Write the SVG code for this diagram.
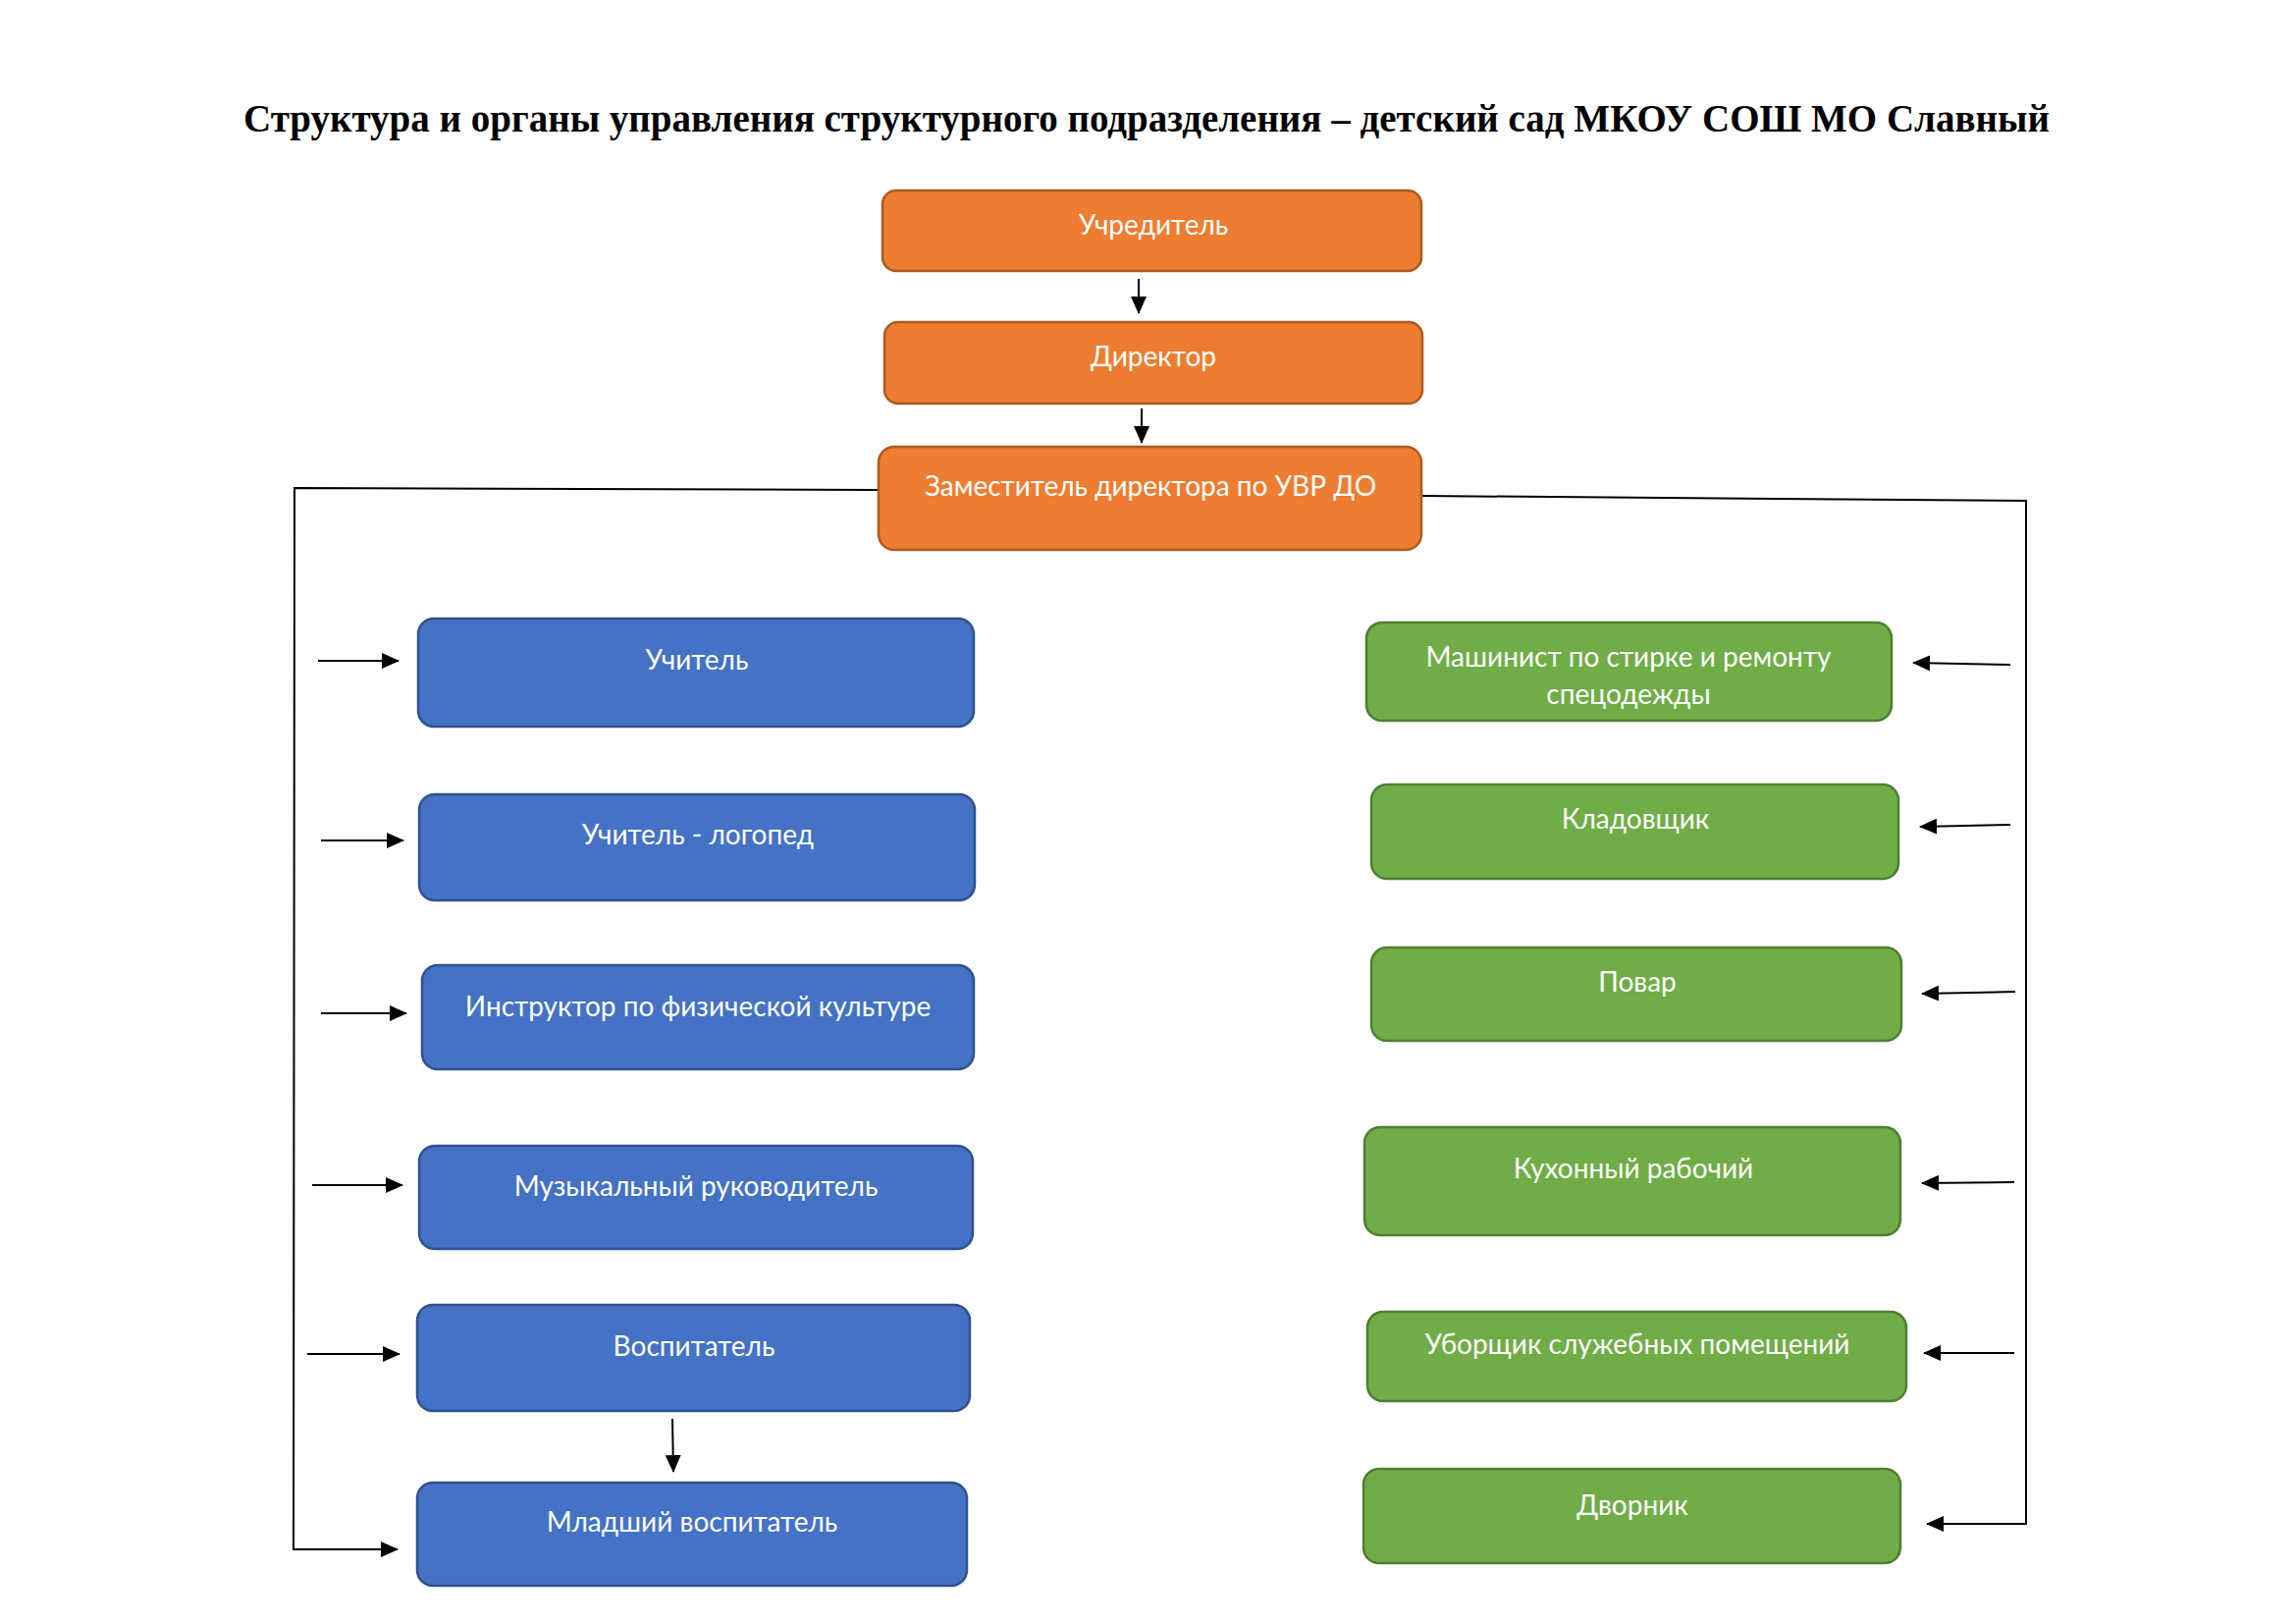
<svg xmlns="http://www.w3.org/2000/svg" width="2339" height="1654" viewBox="0 0 2339 1654">
<defs>
<marker id="ah" markerUnits="userSpaceOnUse" markerWidth="18" markerHeight="16" refX="17" refY="8" orient="auto">
<path d="M0,0 L18,8 L0,16 z" fill="#000"/>
</marker>
<style>
.title{font-family:"Liberation Serif","Times New Roman",serif;font-weight:bold;font-size:39px;fill:#000;text-anchor:middle}
.lbl{font-family:Lato,"Noto Sans",sans-serif;font-size:28px;fill:#fff;text-anchor:middle}
.or{fill:#ED7D31;stroke:#AE5A21;stroke-width:2.5}
.bl{fill:#4472C4;stroke:#2F528F;stroke-width:2.5}
.gr{fill:#70AD47;stroke:#507E32;stroke-width:2.5}
.c{fill:none;stroke:#000;stroke-width:2}
.ca{fill:none;stroke:#000;stroke-width:2;marker-end:url(#ah)}
</style>
</defs>
<rect width="2339" height="1654" fill="#fff"/>
<text class="title" x="1168" y="134">Структура и органы управления структурного подразделения – детский сад МКОУ СОШ МО Славный</text>

<g id="connectors">
<path class="ca" d="M1160,284 L1160,319"/>
<path class="ca" d="M1163,416 L1163,451"/>
<path class="ca" d="M895,499 L300,497 L299,1578 L405,1578"/>
<path class="ca" d="M324,673 L406,673"/>
<path class="ca" d="M327,856 L411,856"/>
<path class="ca" d="M327,1032 L414,1032"/>
<path class="ca" d="M318,1207 L410,1207"/>
<path class="ca" d="M313,1379 L407,1379"/>
<path class="ca" d="M685,1445 L686,1499"/>
<path class="ca" d="M1449,505 L2064,510 L2064,1552 L1963,1552"/>
<path class="ca" d="M2048,677 L1949,675"/>
<path class="ca" d="M2048,840 L1956,842"/>
<path class="ca" d="M2053,1010 L1958,1012"/>
<path class="ca" d="M2052,1204 L1958,1205"/>
<path class="ca" d="M2052,1378 L1960,1378"/>
</g>

<g id="n-uchreditel"><rect class="or" x="899" y="194" width="549" height="82" rx="14"/><text class="lbl" x="1175" y="239">Учредитель</text></g>
<g id="n-direktor"><rect class="or" x="901" y="328" width="548" height="83" rx="14"/><text class="lbl" x="1175" y="373">Директор</text></g>
<g id="n-zam"><rect class="or" x="895" y="455" width="553" height="105" rx="16"/><text class="lbl" x="1172" y="505">Заместитель директора по УВР ДО</text></g>

<g id="n-uchitel"><rect class="bl" x="426" y="630" width="566" height="110" rx="16"/><text class="lbl" x="710" y="682">Учитель</text></g>
<g id="n-logoped"><rect class="bl" x="427" y="809" width="566" height="108" rx="16"/><text class="lbl" x="711" y="860">Учитель - логопед</text></g>
<g id="n-instruktor"><rect class="bl" x="430" y="983" width="562" height="106" rx="16"/><text class="lbl" x="711" y="1035">Инструктор по физической культуре</text></g>
<g id="n-muz"><rect class="bl" x="427" y="1167" width="564" height="105" rx="16"/><text class="lbl" x="709" y="1218">Музыкальный руководитель</text></g>
<g id="n-vosp"><rect class="bl" x="425" y="1329" width="563" height="108" rx="16"/><text class="lbl" x="707" y="1381">Воспитатель</text></g>
<g id="n-mlvosp"><rect class="bl" x="425" y="1510" width="560" height="105" rx="16"/><text class="lbl" x="705" y="1560">Младший воспитатель</text></g>

<g id="n-mashinist"><rect class="gr" x="1392" y="634" width="535" height="100" rx="16"/><text class="lbl" x="1659" y="679">Машинист по стирке и ремонту</text><text class="lbl" x="1659" y="717">спецодежды</text></g>
<g id="n-kladov"><rect class="gr" x="1397" y="799" width="537" height="96" rx="16"/><text class="lbl" x="1666" y="844">Кладовщик</text></g>
<g id="n-povar"><rect class="gr" x="1397" y="965" width="540" height="95" rx="16"/><text class="lbl" x="1668" y="1010">Повар</text></g>
<g id="n-kuhon"><rect class="gr" x="1390" y="1148" width="546" height="110" rx="16"/><text class="lbl" x="1664" y="1200">Кухонный рабочий</text></g>
<g id="n-uborsh"><rect class="gr" x="1393" y="1336" width="549" height="91" rx="16"/><text class="lbl" x="1668" y="1379">Уборщик служебных помещений</text></g>
<g id="n-dvornik"><rect class="gr" x="1389" y="1496" width="547" height="96" rx="16"/><text class="lbl" x="1663" y="1543">Дворник</text></g>
</svg>
